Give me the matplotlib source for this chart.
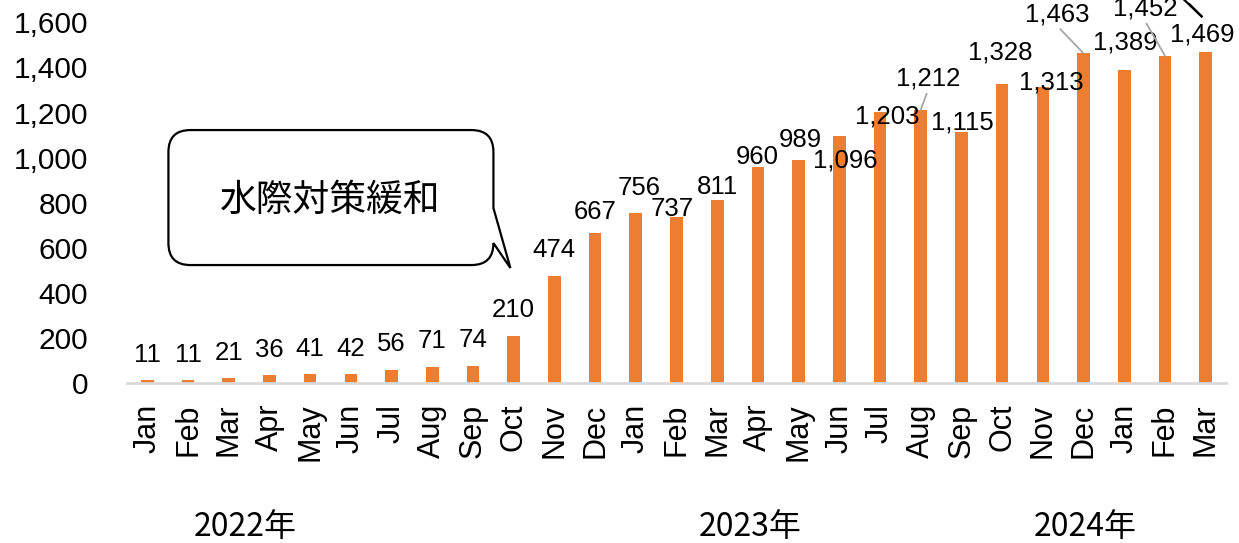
import numpy as np
import matplotlib
matplotlib.use("Agg")
import matplotlib.pyplot as plt
from matplotlib.path import Path
from matplotlib.patches import PathPatch
from matplotlib.transforms import ScaledTranslation, blended_transform_factory

plt.rcParams['font.family'] = ['Liberation Sans', 'Noto Sans CJK JP']

# ── データ ────────────────────────────────────────────────────────────────
months = ["Jan", "Feb", "Mar", "Apr", "May", "Jun", "Jul", "Aug", "Sep", "Oct", "Nov", "Dec",
          "Jan", "Feb", "Mar", "Apr", "May", "Jun", "Jul", "Aug", "Sep", "Oct", "Nov", "Dec",
          "Jan", "Feb", "Mar"]
values = [11, 11, 21, 36, 41, 42, 56, 71, 74, 210, 474, 667,
          756, 737, 811, 960, 989, 1096, 1203, 1212, 1115, 1328, 1313, 1463,
          1389, 1452, 1469]
years = ["2022年", "2023年", "2024年"]
year_pos = [2.4, 14.8, 23.05]
callout_text = "水際対策緩和"

# ラベル位置 (px, 棒の上端からのずれ)
label_dx = [0, 0, 0, 0, 0, 0, 0, 0, 0, 0, 0, 0,
            3, -4, 0, -1, 2, 6, 7, 7, 1, -2, 8, -26,
            1, -20, -3]
label_dy = [25, 25, 25, 25, 25, 25, 26, 26, 26, 26, 26, 21,
            25, 8, 13, 10, 20, -25, -5, 31, 9, 31, 5, 39,
            27, 47, 17]
leader = [19, 23, 25]

ORANGE = "#ED7D31"
x = np.arange(len(values))

fig = plt.figure(figsize=(12.39, 5.43), dpi=100)
ax = fig.add_axes([0.1025, 0.2947, 0.887, 0.664])

ax.bar(x, values, width=0.31, color=ORANGE, zorder=2)
ax.set_xlim(-0.5, len(values) - 0.5)
ax.set_ylim(0, 1600)
ax.set_yticks(range(0, 1601, 200))
ax.yaxis.set_major_formatter(matplotlib.ticker.FuncFormatter(lambda v, p: f"{int(v):,}"))
ax.set_xticks(x)
ax.set_xticklabels(months, rotation=90)
ax.tick_params(axis="x", length=0, pad=15, labelsize=22)
ax.tick_params(axis="y", length=0, pad=28, labelsize=21.5)
for s in ["top", "right", "left"]:
    ax.spines[s].set_visible(False)
ax.spines["bottom"].set_color("#D9D9D9")
ax.spines["bottom"].set_linewidth(2)

# データラベル
for i, v in enumerate(values):
    kw = {}
    if i in leader:
        kw["arrowprops"] = dict(arrowstyle="-", color="#A6A6A6", lw=1.3,
                                relpos=(0.5, 0), shrinkA=0, shrinkB=0)
    ax.annotate(f"{v:,}", xy=(i, v), xytext=(label_dx[i] * 0.72, label_dy[i] * 0.72),
                textcoords="offset points", ha="center", va="center", fontsize=18.5, **kw)

# 年ラベル
tr = blended_transform_factory(ax.transData, ax.transAxes)
for pos, yl in zip(year_pos, years):
    ax.text(pos, -0.40, yl, transform=tr, ha="center", va="center", fontsize=23,
            family=["Noto Sans CJK JP"])

# 吹き出し (先端を Oct 棒の左上に置く、単位は px)
tip = ScaledTranslation(8.92, 510, ax.transData)
bt = fig.dpi_scale_trans + tip
L, R, B, T, r = -342, -17, 3, 138, 22
pts = [(L + r, T), (R - r, T), (R, T), (R, T - r), (R, 60), (0, 0), (R, 25),
       (R, B + r), (R, B), (R - r, B), (L + r, B), (L, B), (L, B + r), (L, T - r), (L, T), (L + r, T)]
codes = [Path.MOVETO, Path.LINETO, Path.CURVE3, Path.CURVE3, Path.LINETO, Path.LINETO, Path.LINETO,
         Path.LINETO, Path.CURVE3, Path.CURVE3, Path.LINETO, Path.CURVE3, Path.CURVE3, Path.LINETO,
         Path.CURVE3, Path.CURVE3]
bubble = Path(np.array(pts) / 100.0, codes)
ax.add_patch(PathPatch(bubble, transform=bt, facecolor="white", edgecolor="black",
                       lw=1.6, clip_on=False, zorder=5))
ax.text(-1.80, 0.68, callout_text, transform=bt, ha="center", va="center", fontsize=26.5,
        family=["Noto Sans CJK JP"], zorder=6)

# 右上の吹き出し先端 (画面外)
tip2 = fig.dpi_scale_trans + ScaledTranslation(26, 1600, ax.transData)
wedge = np.array([(-25, 26), (-4, 6), (-16, 18)]) / 100.0
ax.plot(wedge[[0, 1]][:, 0], wedge[[0, 1]][:, 1], color="black", lw=1.6, transform=tip2, clip_on=False)
ax.plot(wedge[[2, 1]][:, 0], wedge[[2, 1]][:, 1], color="black", lw=1.6, transform=tip2, clip_on=False)

fig.savefig("out.png", dpi=100)
